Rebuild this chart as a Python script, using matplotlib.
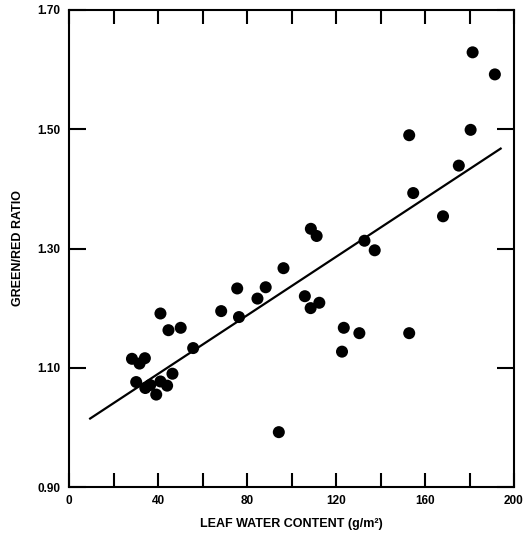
import numpy as np
import matplotlib.pyplot as plt
from matplotlib.ticker import MultipleLocator

# leaf water content (g/m^2) and green/red reflectance ratio
water = [28.3, 31.7, 34.1, 30.2, 34.3, 36.5, 39.2, 41.1, 44.1, 46.5,
         41.1, 44.7, 50.2, 55.8, 68.4, 75.6, 76.4, 84.7, 88.4, 96.4,
         94.3, 106.0, 108.6, 112.5, 108.7, 111.3, 123.5, 122.7, 130.5, 132.8,
         137.4, 152.9, 154.7, 152.9, 168.1, 175.2, 180.5, 181.4, 191.4]
ratio = [1.115, 1.107, 1.116, 1.076, 1.066, 1.071, 1.055, 1.077, 1.070, 1.090,
         1.191, 1.163, 1.167, 1.133, 1.195, 1.233, 1.185, 1.216, 1.235, 1.267,
         0.992, 1.220, 1.200, 1.209, 1.333, 1.321, 1.167, 1.127, 1.158, 1.313,
         1.297, 1.490, 1.393, 1.158, 1.354, 1.439, 1.499, 1.629, 1.592]

y_ticks = [0.90, 1.10, 1.30, 1.50, 1.70]

# regression line
fit_slope = 0.002454
fit_intercept = 0.9915
fit_range = [9.5, 194.0]

plt.rcParams['font.family'] = ['Liberation Sans', 'DejaVu Sans']
plt.rcParams['font.weight'] = 'bold'

fig = plt.figure(figsize=(5.25, 5.35), dpi=100)
ax = fig.add_axes([69 / 525, 1 - 487 / 535, 445 / 525, 477 / 535])

ax.scatter(water, ratio, s=75, color='black', edgecolors='none', zorder=3)
fx = np.array(fit_range)
ax.plot(fx, fit_intercept + fit_slope * fx, color='black', lw=1.6)

ax.set_xlim(0, 200)
ax.set_ylim(0.90, 1.70)
ax.xaxis.set_major_locator(MultipleLocator(40))
ax.xaxis.set_minor_locator(MultipleLocator(20))
ax.set_yticks(y_ticks)
ax.set_yticklabels([f'{v:.2f}' for v in y_ticks])

ax.tick_params(which='both', direction='in', top=True, right=True,
               width=1.5, labelsize=8.5)
ax.tick_params(axis='x', which='both', length=10, pad=6)
ax.tick_params(axis='y', which='major', length=12, pad=6)
for sp in ax.spines.values():
    sp.set_linewidth(1.5)

ax.set_xlabel('LEAF WATER CONTENT (g/m²)', fontsize=9, fontweight='bold', labelpad=8)
ax.set_ylabel('GREEN/RED RATIO', fontsize=9, fontweight='bold', labelpad=10)

fig.savefig('out.png', dpi=100)
